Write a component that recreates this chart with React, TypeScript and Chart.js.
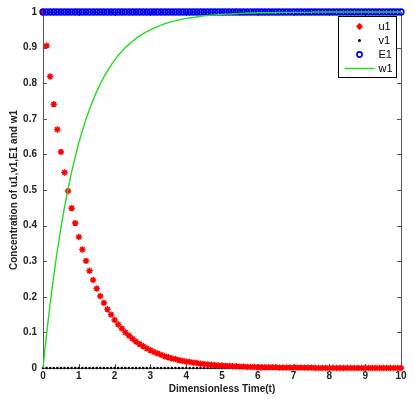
import React, { useEffect, useRef } from "react";
import { Chart, registerables } from "chart.js";

Chart.register(...registerables);

const T = [
  0, 0.1, 0.2, 0.3, 0.4, 0.5, 0.6, 0.7, 0.8, 0.9,
  1, 1.1, 1.2, 1.3, 1.4, 1.5, 1.6, 1.7, 1.8, 1.9,
  2, 2.1, 2.2, 2.3, 2.4, 2.5, 2.6, 2.7, 2.8, 2.9,
  3, 3.1, 3.2, 3.3, 3.4, 3.5, 3.6, 3.7, 3.8, 3.9,
  4, 4.1, 4.2, 4.3, 4.4, 4.5, 4.6, 4.7, 4.8, 4.9,
  5, 5.1, 5.2, 5.3, 5.4, 5.5, 5.6, 5.7, 5.8, 5.9,
  6, 6.1, 6.2, 6.3, 6.4, 6.5, 6.6, 6.7, 6.8, 6.9,
  7, 7.1, 7.2, 7.3, 7.4, 7.5, 7.6, 7.7, 7.8, 7.9,
  8, 8.1, 8.2, 8.3, 8.4, 8.5, 8.6, 8.7, 8.8, 8.9,
  9, 9.1, 9.2, 9.3, 9.4, 9.5, 9.6, 9.7, 9.8, 9.9,
  10,
];

const U1 = [
  1.0, 0.905, 0.819, 0.741, 0.67, 0.607, 0.549, 0.497, 0.449, 0.407,
  0.368, 0.333, 0.301, 0.273, 0.247, 0.223, 0.202, 0.183, 0.165, 0.15,
  0.135, 0.122, 0.111, 0.1, 0.091, 0.082, 0.074, 0.067, 0.061, 0.055,
  0.05, 0.045, 0.041, 0.037, 0.033, 0.03, 0.027, 0.025, 0.022, 0.02,
  0.018, 0.017, 0.015, 0.014, 0.012, 0.011, 0.01, 0.009, 0.008, 0.007,
  0.007, 0.006, 0.006, 0.005, 0.005, 0.004, 0.004, 0.003, 0.003, 0.003,
  0.002, 0.002, 0.002, 0.002, 0.002, 0.002, 0.001, 0.001, 0.001, 0.001,
  0.001, 0.001, 0.001, 0.001, 0.001, 0.001, 0, 0, 0, 0,
  0, 0, 0, 0, 0, 0, 0, 0, 0, 0,
  0, 0, 0, 0, 0, 0, 0, 0, 0, 0,
  0,
];

const V1 = [
  0, 0, 0, 0, 0, 0, 0, 0, 0, 0,
  0, 0, 0, 0, 0, 0, 0, 0, 0, 0,
  0, 0, 0, 0, 0, 0, 0, 0, 0, 0,
  0, 0, 0, 0, 0, 0, 0, 0, 0, 0,
  0, 0, 0, 0, 0, 0, 0, 0, 0, 0,
  0, 0, 0, 0, 0, 0, 0, 0, 0, 0,
  0, 0, 0, 0, 0, 0, 0, 0, 0, 0,
  0, 0, 0, 0, 0, 0, 0, 0, 0, 0,
  0, 0, 0, 0, 0, 0, 0, 0, 0, 0,
  0, 0, 0, 0, 0, 0, 0, 0, 0, 0,
  0,
];

const E1 = [
  1, 1, 1, 1, 1, 1, 1, 1, 1, 1,
  1, 1, 1, 1, 1, 1, 1, 1, 1, 1,
  1, 1, 1, 1, 1, 1, 1, 1, 1, 1,
  1, 1, 1, 1, 1, 1, 1, 1, 1, 1,
  1, 1, 1, 1, 1, 1, 1, 1, 1, 1,
  1, 1, 1, 1, 1, 1, 1, 1, 1, 1,
  1, 1, 1, 1, 1, 1, 1, 1, 1, 1,
  1, 1, 1, 1, 1, 1, 1, 1, 1, 1,
  1, 1, 1, 1, 1, 1, 1, 1, 1, 1,
  1, 1, 1, 1, 1, 1, 1, 1, 1, 1,
  1,
];

const W1 = [
  0, 0.095, 0.181, 0.259, 0.33, 0.393, 0.451, 0.503, 0.551, 0.593,
  0.632, 0.667, 0.699, 0.727, 0.753, 0.777, 0.798, 0.817, 0.835, 0.85,
  0.865, 0.878, 0.889, 0.9, 0.909, 0.918, 0.926, 0.933, 0.939, 0.945,
  0.95, 0.955, 0.959, 0.963, 0.967, 0.97, 0.973, 0.975, 0.978, 0.98,
  0.982, 0.983, 0.985, 0.986, 0.988, 0.989, 0.99, 0.991, 0.992, 0.993,
  0.993, 0.994, 0.994, 0.995, 0.995, 0.996, 0.996, 0.997, 0.997, 0.997,
  0.998, 0.998, 0.998, 0.998, 0.998, 0.998, 0.999, 0.999, 0.999, 0.999,
  0.999, 0.999, 0.999, 0.999, 0.999, 0.999, 1, 1, 1, 1,
  1, 1, 1, 1, 1, 1, 1, 1, 1, 1,
  1, 1, 1, 1, 1, 1, 1, 1, 1, 1,
  1,
];

const X_TICKS = [0, 1, 2, 3, 4, 5, 6, 7, 8, 9, 10];
const Y_TICKS = [0, 0.1, 0.2, 0.3, 0.4, 0.5, 0.6, 0.7, 0.8, 0.9, 1];
const Y_TICK_LABELS = ["0", "0.1", "0.2", "0.3", "0.4", "0.5", "0.6", "0.7", "0.8", "0.9", "1"];
const LEGEND_LABELS = ["u1", "v1", "E1", "w1"];

const RED = "#ff0000";
const BLACK = "#000000";
const BLUE = "#0000ee";
const GREEN = "#22dd22";
const AXIS = "#555555";
const FONT = "'Liberation Sans', Arial, sans-serif";

const toPts = (ys: number[]) => T.map((t, i) => ({ x: t, y: ys[i] }));

const boxPlugin = {
  id: "matlabBox",
  beforeDatasetsDraw(chart: any) {
    const { ctx, chartArea } = chart;
    const { left, right, top, bottom } = chartArea;
    const xs = chart.scales.x;
    const ys = chart.scales.y;
    ctx.save();
    ctx.strokeStyle = AXIS;
    ctx.lineWidth = 1;
    ctx.strokeRect(Math.round(left) + 0.5, Math.round(top) + 0.5, Math.round(right - left), Math.round(bottom - top));
    const tl = 4;
    ctx.beginPath();
    X_TICKS.forEach((v) => {
      const px = Math.round(xs.getPixelForValue(v)) + 0.5;
      ctx.moveTo(px, bottom);
      ctx.lineTo(px, bottom - tl);
      ctx.moveTo(px, top);
      ctx.lineTo(px, top + tl);
    });
    Y_TICKS.forEach((v) => {
      const py = Math.round(ys.getPixelForValue(v)) + 0.5;
      ctx.moveTo(left, py);
      ctx.lineTo(left + tl, py);
      ctx.moveTo(right, py);
      ctx.lineTo(right - tl, py);
    });
    ctx.stroke();
    ctx.restore();
  },
};

const legendPlugin = {
  id: "matlabLegend",
  afterDraw(chart: any) {
    const { ctx, chartArea } = chart;
    const w = 58;
    const h = 61;
    const x0 = Math.round(chartArea.right - 5 - w) + 0.5;
    const y0 = Math.round(chartArea.top + 4) + 0.5;
    ctx.save();
    ctx.fillStyle = "#ffffff";
    ctx.fillRect(x0, y0, w, h);
    ctx.strokeStyle = "#000000";
    ctx.lineWidth = 1;
    ctx.strokeRect(x0, y0, w, h);
    const rowY = [y0 + 10, y0 + 24, y0 + 38, y0 + 52];
    const mx = x0 + 21;
    // u1 star
    ctx.strokeStyle = RED;
    ctx.lineWidth = 1.6;
    ctx.beginPath();
    const r = 3.2;
    ctx.moveTo(mx - r, rowY[0]);
    ctx.lineTo(mx + r, rowY[0]);
    ctx.moveTo(mx, rowY[0] - r);
    ctx.lineTo(mx, rowY[0] + r);
    const d = r * 0.6;
    ctx.moveTo(mx - d, rowY[0] - d);
    ctx.lineTo(mx + d, rowY[0] + d);
    ctx.moveTo(mx - d, rowY[0] + d);
    ctx.lineTo(mx + d, rowY[0] - d);
    ctx.stroke();
    // v1 dot
    ctx.fillStyle = BLACK;
    ctx.beginPath();
    ctx.arc(mx, rowY[1], 1.5, 0, Math.PI * 2);
    ctx.fill();
    // E1 circle
    ctx.strokeStyle = BLUE;
    ctx.lineWidth = 1.6;
    ctx.beginPath();
    ctx.arc(mx, rowY[2], 2.6, 0, Math.PI * 2);
    ctx.stroke();
    // w1 line
    ctx.strokeStyle = GREEN;
    ctx.lineWidth = 1.5;
    ctx.beginPath();
    ctx.moveTo(x0 + 6, rowY[3]);
    ctx.lineTo(x0 + 36, rowY[3]);
    ctx.stroke();
    ctx.fillStyle = "#000000";
    ctx.font = `11px ${FONT}`;
    ctx.textBaseline = "middle";
    ctx.textAlign = "left";
    LEGEND_LABELS.forEach((lab, i) => {
      ctx.fillText(lab, x0 + 40, rowY[i] + 0.5);
    });
    ctx.restore();
  },
};

export default function App() {
  const ref = useRef<HTMLCanvasElement | null>(null);
  useEffect(() => {
    if (!ref.current) return;
    const chart = new Chart(ref.current, {
      type: "scatter",
      data: {
        datasets: [
          {
            label: "w1",
            data: toPts(W1),
            showLine: true,
            borderColor: GREEN,
            borderWidth: 1.4,
            pointRadius: 0,
            fill: false,
            order: 0,
            clip: false as any,
          },
          {
            label: "E1",
            data: toPts(E1),
            pointStyle: "circle",
            pointRadius: 2.8,
            borderColor: BLUE,
            backgroundColor: "rgba(0,0,0,0)",
            pointBorderWidth: 1.7,
            showLine: false,
            order: 1,
            clip: false as any,
          },
          {
            label: "v1",
            data: toPts(V1),
            pointStyle: "circle",
            pointRadius: 1.3,
            borderColor: BLACK,
            backgroundColor: BLACK,
            pointBorderWidth: 0,
            showLine: false,
            order: 3,
            clip: false as any,
          },
          {
            label: "u1",
            data: toPts(U1),
            pointStyle: "star",
            pointRadius: 3.2,
            borderColor: RED,
            backgroundColor: RED,
            pointBorderWidth: 1.5,
            showLine: false,
            order: 2,
            clip: false as any,
          },
        ],
      },
      options: {
        animation: false,
        responsive: false,
        devicePixelRatio: 1,
        layout: { padding: { top: 10, right: 14, left: 0, bottom: 0 } },
        plugins: {
          legend: { display: false },
          tooltip: { enabled: false },
        },
        scales: {
          x: {
            type: "linear",
            min: 0,
            max: 10,
            afterFit: (s: any) => {
              s.height = 31;
            },
            afterBuildTicks: (s: any) => {
              s.ticks = X_TICKS.map((v) => ({ value: v }));
            },
            ticks: {
              autoSkip: false,
              maxRotation: 0,
              padding: 2,
              color: "#222222",
              font: { family: FONT, size: 10, weight: "bold" },
              callback: (v: any) => String(v),
            },
            grid: { display: false, drawTicks: false },
            border: { display: false },
            title: {
              display: true,
              text: "Dimensionless Time(t)",
              color: "#222222",
              font: { family: FONT, size: 10, weight: "bold" },
              padding: { top: 0, bottom: 4 },
            },
          },
          y: {
            type: "linear",
            min: 0,
            max: 1,
            afterFit: (s: any) => {
              s.width = 43;
            },
            afterBuildTicks: (s: any) => {
              s.ticks = Y_TICKS.map((v) => ({ value: v }));
            },
            ticks: {
              autoSkip: false,
              padding: 6,
              color: "#222222",
              font: { family: FONT, size: 10, weight: "bold" },
              callback: (_v: any, i: number) => Y_TICK_LABELS[i],
            },
            grid: { display: false, drawTicks: false },
            border: { display: false },
            title: {
              display: true,
              text: "Concentration of u1,v1,E1 and w1",
              color: "#222222",
              font: { family: FONT, size: 10, weight: "bold" },
              padding: { top: 8, bottom: 0 },
            },
          },
        },
      } as any,
      plugins: [boxPlugin, legendPlugin],
    });
    return () => chart.destroy();
  }, []);
  return (
    <div style={{ position: "fixed", left: 0, top: 0, width: 415, height: 399, background: "#fff" }}>
      <canvas ref={ref} width={415} height={399} style={{ width: 415, height: 399, display: "block" }} />
    </div>
  );
}
